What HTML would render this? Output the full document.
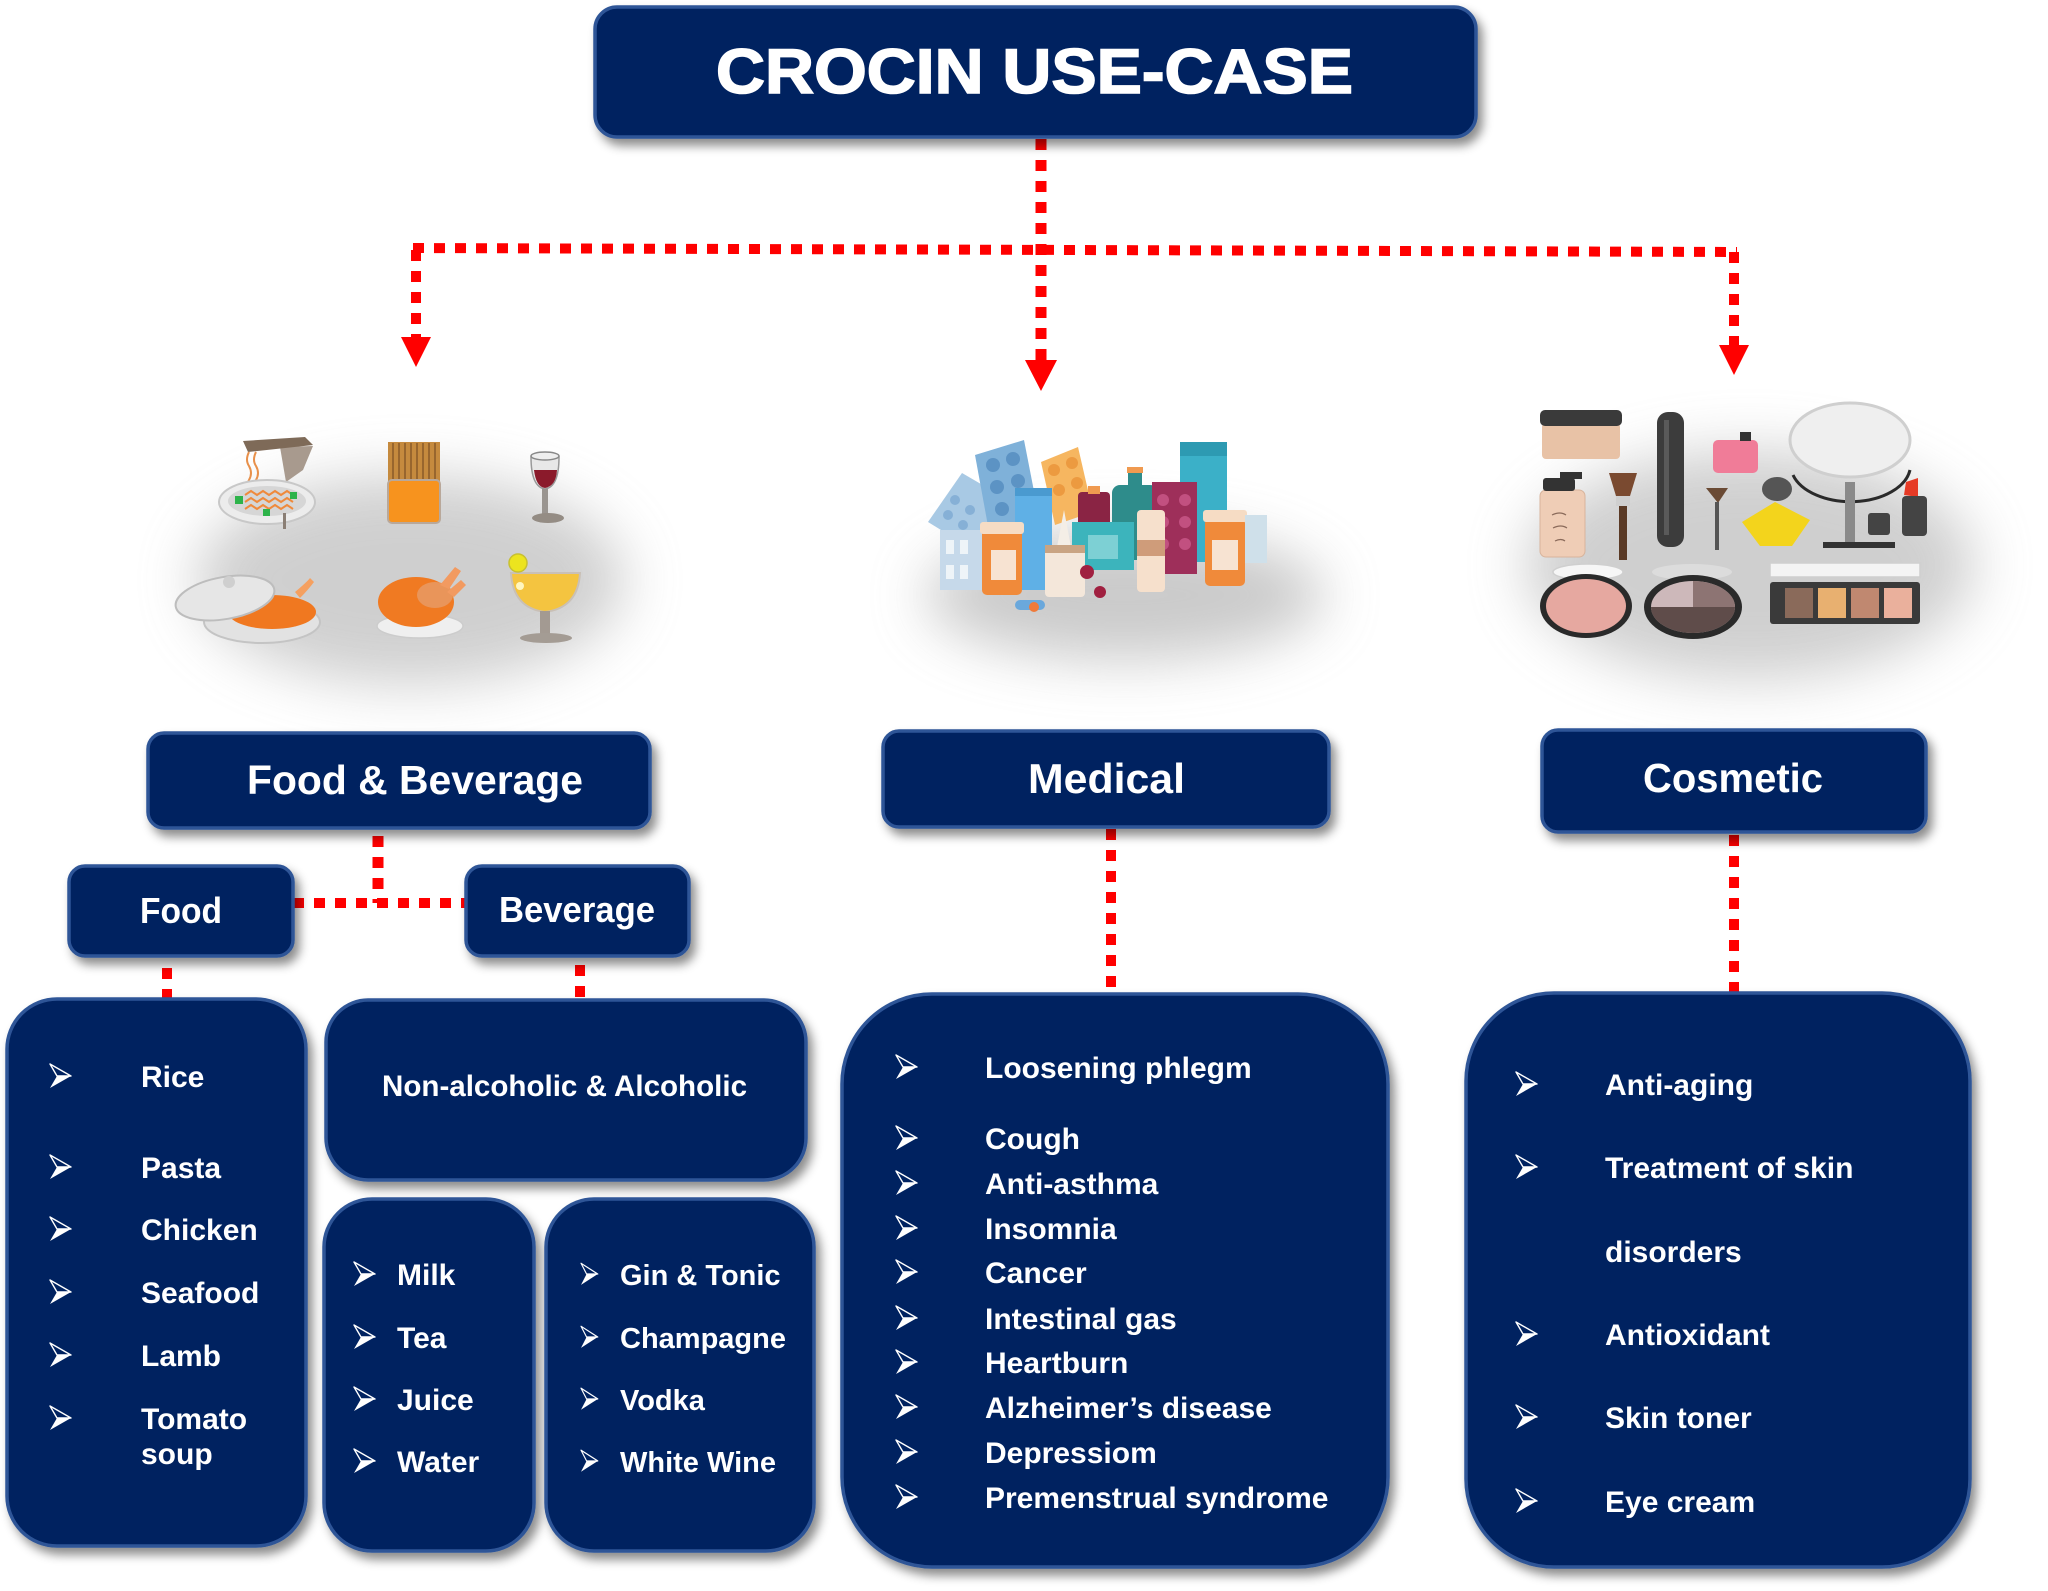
<!DOCTYPE html>
<html><head><meta charset="utf-8">
<style>
html,body{margin:0;padding:0;background:#fff;}
body{width:2048px;height:1591px;overflow:hidden;}
svg{display:block;}
text{font-family:"Liberation Sans",Arial,sans-serif;font-weight:bold;fill:#fff;}
</style></head>
<body>
<svg width="2048" height="1591" viewBox="0 0 2048 1591" xmlns="http://www.w3.org/2000/svg">
<defs>
  <filter id="sh" x="-10%" y="-10%" width="125%" height="130%">
    <feDropShadow dx="5" dy="7" stdDeviation="5" flood-color="#000" flood-opacity="0.45"/>
  </filter>
  <filter id="blur" x="-50%" y="-50%" width="200%" height="200%">
    <feGaussianBlur stdDeviation="28"/>
  </filter>
  <g id="ar">
    <path d="M0,0 L21,12 L7,12 Z" fill="none" stroke="#fff" stroke-width="1.4" stroke-linejoin="round"/>
    <path d="M7,12 L21,12 L0,24 Z" fill="#fff"/>
  </g>
</defs>

<!-- soft image shadows -->
<ellipse cx="410" cy="580" rx="215" ry="105" fill="#b0b0b0" opacity="0.6" filter="url(#blur)"/>
<ellipse cx="1125" cy="595" rx="200" ry="65" fill="#a8a8a8" opacity="0.6" filter="url(#blur)"/>
<ellipse cx="1750" cy="565" rx="225" ry="115" fill="#b0b0b0" opacity="0.6" filter="url(#blur)"/>

<!-- ===== connectors ===== -->
<g stroke="#ff0000" fill="none" stroke-dasharray="11 10">
  <line x1="1041" y1="139" x2="1041" y2="360" stroke-width="11"/>
  <line x1="413" y1="248" x2="1737" y2="252" stroke-width="10"/>
  <line x1="416" y1="250" x2="416" y2="338" stroke-width="10"/>
  <line x1="1734" y1="252" x2="1734" y2="346" stroke-width="10"/>
  <line x1="378" y1="836" x2="378" y2="903" stroke-width="11"/>
  <line x1="293" y1="903" x2="466" y2="903" stroke-width="10"/>
  <line x1="167" y1="968" x2="167" y2="999" stroke-width="10"/>
  <line x1="580" y1="965" x2="580" y2="999" stroke-width="10"/>
  <line x1="1111" y1="829" x2="1111" y2="994" stroke-width="10"/>
  <line x1="1734" y1="835" x2="1734" y2="993" stroke-width="10"/>
</g>
<g fill="#ff0000">
  <polygon points="1025,360 1057,360 1041,391"/>
  <polygon points="401,337 431,337 416,367"/>
  <polygon points="1719,345 1749,345 1734,375"/>
</g>

<!-- ===== boxes ===== -->
<g fill="#002060" stroke="#2E5597" stroke-width="3.5" filter="url(#sh)">
  <rect x="595" y="7" width="881" height="130" rx="22"/>
  <rect x="148" y="733" width="502" height="95" rx="16"/>
  <rect x="69" y="866" width="224" height="90" rx="16"/>
  <rect x="466" y="866" width="223" height="90" rx="16"/>
  <rect x="883" y="731" width="446" height="96" rx="16"/>
  <rect x="1542" y="730" width="384" height="102" rx="16"/>
  <rect x="7" y="999" width="299" height="547" rx="50"/>
  <rect x="326" y="1000" width="480" height="180" rx="42"/>
  <rect x="324" y="1199" width="210" height="352" rx="48"/>
  <rect x="546" y="1199" width="268" height="352" rx="48"/>
  <rect x="842" y="994" width="546" height="573" rx="90"/>
  <rect x="1466" y="993" width="504" height="574" rx="88"/>
</g>

<!-- ===== headings ===== -->
<text x="716" y="93" font-size="63" textLength="637" lengthAdjust="spacingAndGlyphs" stroke="#fff" stroke-width="1.6">CROCIN USE-CASE</text>
<text x="247" y="794" font-size="41" textLength="336" lengthAdjust="spacingAndGlyphs">Food &amp; Beverage</text>
<text x="140" y="923" font-size="36" textLength="82" lengthAdjust="spacingAndGlyphs">Food</text>
<text x="499" y="922" font-size="36" textLength="156" lengthAdjust="spacingAndGlyphs">Beverage</text>
<text x="1028" y="793" font-size="42" textLength="157" lengthAdjust="spacingAndGlyphs">Medical</text>
<text x="1643" y="792" font-size="41" textLength="180" lengthAdjust="spacingAndGlyphs">Cosmetic</text>
<text x="382" y="1096" font-size="30" textLength="365" lengthAdjust="spacingAndGlyphs">Non-alcoholic &amp; Alcoholic</text>

<!-- ===== lists ===== -->
<g font-size="30">
<text x="141" y="1087">Rice</text>
<text x="141" y="1178">Pasta</text>
<text x="141" y="1240">Chicken</text>
<text x="141" y="1303">Seafood</text>
<text x="141" y="1366">Lamb</text>
<text x="141" y="1429">Tomato</text>
<text x="141" y="1464">soup</text>

<text x="397" y="1285">Milk</text>
<text x="397" y="1348">Tea</text>
<text x="397" y="1410">Juice</text>
<text x="397" y="1472">Water</text>

<text x="620" y="1285" font-size="29">Gin &amp; Tonic</text>
<text x="620" y="1348" font-size="29">Champagne</text>
<text x="620" y="1410" font-size="29">Vodka</text>
<text x="620" y="1472" font-size="29">White Wine</text>

<text x="985" y="1078">Loosening phlegm</text>
<text x="985" y="1149">Cough</text>
<text x="985" y="1194">Anti-asthma</text>
<text x="985" y="1239">Insomnia</text>
<text x="985" y="1283">Cancer</text>
<text x="985" y="1329">Intestinal gas</text>
<text x="985" y="1373">Heartburn</text>
<text x="985" y="1418">Alzheimer’s disease</text>
<text x="985" y="1463">Depressiom</text>
<text x="985" y="1508">Premenstrual syndrome</text>

<text x="1605" y="1095">Anti-aging</text>
<text x="1605" y="1178">Treatment of skin</text>
<text x="1605" y="1262">disorders</text>
<text x="1605" y="1345">Antioxidant</text>
<text x="1605" y="1428">Skin toner</text>
<text x="1605" y="1512">Eye cream</text>
</g>

<!-- ===== bullet arrows ===== -->
<g>
<use href="#ar" x="50" y="1064"/>
<use href="#ar" x="50" y="1155"/>
<use href="#ar" x="50" y="1217"/>
<use href="#ar" x="50" y="1280"/>
<use href="#ar" x="50" y="1343"/>
<use href="#ar" x="50" y="1406"/>

<use href="#ar" x="354" y="1262"/>
<use href="#ar" x="354" y="1325"/>
<use href="#ar" x="354" y="1387"/>
<use href="#ar" x="354" y="1449"/>

<g transform="translate(581,0) scale(0.8,0.9)">
<use href="#ar" x="0" y="1403.6"/>
<use href="#ar" x="0" y="1473.6"/>
<use href="#ar" x="0" y="1542.4"/>
<use href="#ar" x="0" y="1611.3"/>
</g>

<use href="#ar" x="896" y="1055"/>
<use href="#ar" x="896" y="1126"/>
<use href="#ar" x="896" y="1171"/>
<use href="#ar" x="896" y="1216"/>
<use href="#ar" x="896" y="1260"/>
<use href="#ar" x="896" y="1306"/>
<use href="#ar" x="896" y="1350"/>
<use href="#ar" x="896" y="1395"/>
<use href="#ar" x="896" y="1440"/>
<use href="#ar" x="896" y="1485"/>

<use href="#ar" x="1516" y="1072"/>
<use href="#ar" x="1516" y="1155"/>
<use href="#ar" x="1516" y="1322"/>
<use href="#ar" x="1516" y="1405"/>
<use href="#ar" x="1516" y="1489"/>
</g>

<!-- ===== Food & Beverage illustration ===== -->
<g>
  <polygon points="280,447 313,446 303,470 286,482" fill="#a89a8e"/>
  <polygon points="243,441 305,437 313,445 248,452" fill="#7e6a58"/>
  <path d="M249,452 q-4,8 0,14 q4,7 0,14 q-4,7 0,14 M256,452 q-4,8 0,14 q4,7 0,14 q-4,7 0,14" stroke="#e8904a" stroke-width="2" fill="none"/>
  <ellipse cx="267" cy="502" rx="48" ry="22" fill="#ececec" stroke="#c8c8c8" stroke-width="2"/>
  <ellipse cx="267" cy="501" rx="39" ry="15" fill="#d6d6d6"/>
  <path d="M245,495 l6,-4 6,4 6,-4 6,4 6,-4 6,4 6,-4 6,4 M245,502 l6,-4 6,4 6,-4 6,4 6,-4 6,4 6,-4 6,4 M245,509 l6,-4 6,4 6,-4 6,4 6,-4 6,4 6,-4 6,4" stroke="#ef8a3c" stroke-width="2" fill="none"/>
  <rect x="235" y="496" width="8" height="8" fill="#2db34a"/>
  <rect x="290" y="492" width="7" height="7" fill="#2db34a"/>
  <rect x="263" y="509" width="7" height="7" fill="#2db34a"/>
  <rect x="283" y="513" width="3" height="16" fill="#8a7e74"/>
  <rect x="388" y="442" width="52" height="40" fill="#c58a3e"/>
  <path d="M393,443 v38 M399,443 v38 M405,443 v38 M411,443 v38 M417,443 v38 M423,443 v38 M429,443 v38 M435,443 v38" stroke="#8a5a28" stroke-width="1.5"/>
  <rect x="388" y="480" width="52" height="43" rx="4" fill="#f7931e" stroke="#b9a89a" stroke-width="2"/>
  <path d="M531,457 Q531,487 545,489 Q559,487 559,457 Z" fill="#e8e8e8" stroke="#999" stroke-width="1.5"/>
  <path d="M534,470 Q536,487 545,488 Q556,486 557,470 Z" fill="#8b1a2b"/>
  <ellipse cx="545" cy="456" rx="14" ry="4" fill="#eee" stroke="#888" stroke-width="1.5"/>
  <rect x="542" y="489" width="6" height="26" fill="#9a9590"/>
  <ellipse cx="548" cy="518" rx="16" ry="5" fill="#948c84"/>
  <ellipse cx="262" cy="622" rx="58" ry="21" fill="#e2e2e2" stroke="#c4c4c4" stroke-width="2"/>
  <ellipse cx="272" cy="612" rx="44" ry="17" fill="#f07820"/>
  <path d="M295,592 q12,-10 15,-14 l4,4 q-6,8 -14,16 z" fill="#f5a060"/>
  <ellipse cx="225" cy="598" rx="50" ry="21" transform="rotate(-10 225 598)" fill="#e6e6e6" stroke="#bdbdbd" stroke-width="2"/>
  <circle cx="229" cy="582" r="6" fill="#cfcfcf"/>
  <ellipse cx="420" cy="626" rx="43" ry="12" fill="#efefef" stroke="#ccc" stroke-width="1.5"/>
  <ellipse cx="416" cy="602" rx="38" ry="25" fill="#f07a22"/>
  <ellipse cx="435" cy="595" rx="18" ry="13" fill="#e9955a"/>
  <path d="M440,585 l15,-18 l6,4 l-12,18 z M447,592 l14,-12 l5,5 l-12,12 z" fill="#f29a60"/>
  <path d="M511,573 L580,573 Q578,608 545,612 Q513,608 511,573 Z" fill="#f4c440" stroke="#c9c0b6" stroke-width="2"/>
  <circle cx="518" cy="563" r="9" fill="#ece41e" stroke="#c8c030" stroke-width="1.5"/>
  <circle cx="520" cy="586" r="4" fill="#fff6c0"/>
  <rect x="540" y="611" width="10" height="25" fill="#a39a92"/>
  <ellipse cx="546" cy="638" rx="26" ry="5" fill="#a49c94"/>
</g>

<!-- ===== Medical illustration ===== -->
<g>
  <polygon points="928,522 962,473 1017,505 985,557" fill="#a8c9e4"/>
  <g fill="#86b0d6"><circle cx="955" cy="500" r="5"/><circle cx="970" cy="510" r="5"/><circle cx="948" cy="515" r="5"/><circle cx="963" cy="525" r="5"/></g>
  <polygon points="975,455 1024,440 1040,522 990,537" fill="#7fb1d9"/>
  <g fill="#5c93c4"><circle cx="993" cy="465" r="7"/><circle cx="1013" cy="459" r="7"/><circle cx="997" cy="487" r="7"/><circle cx="1018" cy="481" r="7"/><circle cx="1002" cy="509" r="7"/><circle cx="1023" cy="503" r="7"/></g>
  <polygon points="1041,462 1078,447 1093,512 1055,525" fill="#f6b660"/>
  <g fill="#ec9a40"><circle cx="1054" cy="470" r="6"/><circle cx="1072" cy="463" r="6"/><circle cx="1059" cy="490" r="6"/><circle cx="1077" cy="483" r="6"/></g>
  <rect x="940" y="530" width="45" height="60" fill="#c6d9ea"/>
  <g fill="#eef4f8"><rect x="946" y="540" width="8" height="14"/><rect x="960" y="540" width="8" height="14"/><rect x="946" y="565" width="8" height="14"/><rect x="960" y="565" width="8" height="14"/></g>
  <rect x="1112" y="485" width="46" height="75" rx="8" fill="#2e8c8b"/>
  <rect x="1128" y="471" width="14" height="16" fill="#2e8c8b"/>
  <rect x="1127" y="467" width="16" height="6" fill="#f09a50"/>
  <rect x="1180" y="442" width="47" height="120" fill="#3bb0c8"/>
  <rect x="1180" y="442" width="47" height="14" fill="#2d9ab2"/>
  <rect x="1152" y="482" width="45" height="92" fill="#9e2f5a"/>
  <g fill="#c25080"><circle cx="1163" cy="500" r="6"/><circle cx="1185" cy="500" r="6"/><circle cx="1163" cy="522" r="6"/><circle cx="1185" cy="522" r="6"/><circle cx="1163" cy="544" r="6"/><circle cx="1185" cy="544" r="6"/></g>
  <rect x="1078" y="492" width="32" height="45" rx="4" fill="#8a2444"/>
  <rect x="1088" y="486" width="12" height="8" fill="#f09a50"/>
  <rect x="1015" y="488" width="37" height="102" fill="#5fb0e6"/>
  <rect x="1015" y="488" width="37" height="8" fill="#4a9ad0"/>
  <rect x="1072" y="522" width="62" height="48" fill="#3cb4bc"/>
  <rect x="1088" y="535" width="30" height="24" fill="#7dd0d4"/>
  <polygon points="1057,547 1064,510 1071,547" fill="#f4eee6"/>
  <rect x="1045" y="545" width="40" height="52" rx="4" fill="#f4e7da"/>
  <rect x="1045" y="545" width="40" height="8" fill="#c9a483"/>
  <rect x="982" y="527" width="40" height="68" rx="5" fill="#f08a3a"/>
  <rect x="980" y="522" width="44" height="12" rx="3" fill="#f6dcc4"/>
  <rect x="991" y="550" width="25" height="30" fill="#f7e3d2"/>
  <rect x="1137" y="510" width="28" height="82" rx="4" fill="#f6e0cc"/>
  <rect x="1137" y="540" width="28" height="16" fill="#cf9c7a"/>
  <rect x="1205" y="518" width="40" height="68" rx="5" fill="#f08a3a"/>
  <rect x="1203" y="510" width="44" height="12" rx="3" fill="#f6dcc4"/>
  <rect x="1212" y="540" width="26" height="30" fill="#f7e3d2"/>
  <rect x="1245" y="515" width="22" height="48" fill="#cfe0ea"/>
  <circle cx="1087" cy="572" r="7" fill="#a02040"/>
  <circle cx="1100" cy="592" r="6" fill="#a02040"/>
  <rect x="1015" y="600" width="30" height="10" rx="5" fill="#6aa8dc"/>
  <circle cx="1034" cy="607" r="5" fill="#ef7a3a"/>
</g>

<!-- ===== Cosmetic illustration ===== -->
<g>
  <rect x="1542" y="423" width="78" height="36" rx="4" fill="#e8c2a6"/>
  <rect x="1540" y="410" width="82" height="16" rx="5" fill="#3a3a3a"/>
  <rect x="1540" y="490" width="45" height="67" rx="6" fill="#efcdb6" stroke="#d8b49c" stroke-width="1"/>
  <rect x="1543" y="478" width="32" height="13" rx="3" fill="#333"/>
  <rect x="1560" y="472" width="22" height="7" fill="#333"/>
  <path d="M1552,515 q8,-4 14,0 M1553,528 q8,-4 14,0 M1555,541 q6,-3 10,0" stroke="#8a6a5a" stroke-width="1.2" fill="none"/>
  <polygon points="1609,473 1637,473 1630,496 1616,496" fill="#7a4a30"/>
  <rect x="1616" y="496" width="14" height="10" fill="#cfcfcf"/>
  <rect x="1619" y="506" width="8" height="54" fill="#5a3a26"/>
  <rect x="1657" y="412" width="27" height="135" rx="11" fill="#3c3c3c"/>
  <rect x="1664" y="420" width="5" height="115" fill="#5a5a5a"/>
  <rect x="1713" y="440" width="45" height="33" rx="5" fill="#f07c98"/>
  <rect x="1740" y="432" width="11" height="9" fill="#333"/>
  <polygon points="1706,488 1728,488 1718,503" fill="#6a4a34"/>
  <rect x="1715" y="502" width="4" height="48" fill="#555"/>
  <polygon points="1742,522 1775,502 1810,520 1792,546 1760,546" fill="#f3d41c"/>
  <ellipse cx="1777" cy="489" rx="15" ry="12" fill="#555"/>
  <path d="M1793,475 A60,37 0 0 0 1910,470" stroke="#2a2a2a" stroke-width="3" fill="none"/>
  <ellipse cx="1850" cy="440" rx="60" ry="37" fill="#efefef" stroke="#cfcfcf" stroke-width="3"/>
  <rect x="1845" y="482" width="10" height="60" fill="#8a8a8a"/>
  <rect x="1823" y="542" width="72" height="6" fill="#333"/>
  <rect x="1868" y="513" width="22" height="22" rx="3" fill="#444"/>
  <polygon points="1904,495 1906,482 1918,478 1918,497" fill="#e63a25"/>
  <rect x="1902" y="496" width="25" height="40" rx="4" fill="#444"/>
  <ellipse cx="1588" cy="572" rx="35" ry="8" fill="#f6f6f6" stroke="#cfcfcf" stroke-width="1.5"/>
  <ellipse cx="1586" cy="606" rx="46" ry="32" fill="#2a2a2a"/>
  <ellipse cx="1586" cy="606" rx="40" ry="27" fill="#e6a8a0"/>
  <ellipse cx="1692" cy="572" rx="40" ry="8" fill="#dcdcdc"/>
  <ellipse cx="1693" cy="607" rx="49" ry="32" fill="#2a2a2a"/>
  <ellipse cx="1693" cy="607" rx="42" ry="26" fill="#cdb8ba"/>
  <path d="M1693,607 L1693,581 A42,26 0 0 1 1735,607 Z" fill="#8d7473"/>
  <path d="M1693,607 L1735,607 A42,26 0 0 1 1651,607 Z" fill="#5f4c4a"/>
  <rect x="1770" y="563" width="150" height="14" fill="#f4f4f4" stroke="#cfcfcf" stroke-width="1.5"/>
  <rect x="1770" y="582" width="150" height="42" rx="3" fill="#3a3a3a"/>
  <rect x="1785" y="588" width="28" height="30" fill="#8a6a5a"/>
  <rect x="1818" y="588" width="28" height="30" fill="#e8b070"/>
  <rect x="1851" y="588" width="28" height="30" fill="#c08870"/>
  <rect x="1884" y="588" width="28" height="30" fill="#eab09c"/>
</g>
</svg>
</body></html>
